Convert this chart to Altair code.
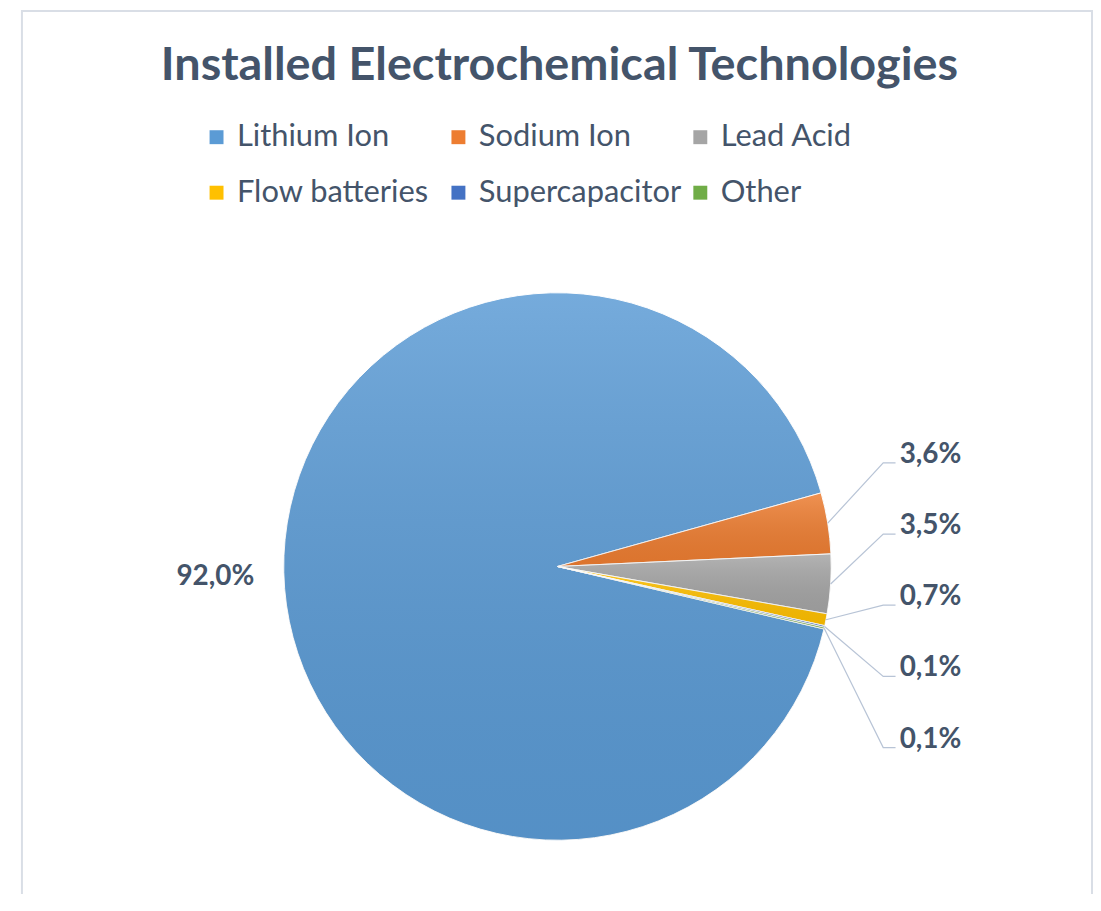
import math
import altair as alt
import pandas as pd

# ---------------- data ----------------
categories = ["Lithium Ion", "Sodium Ion", "Lead Acid", "Flow batteries", "Supercapacitor", "Other"]
shares = [92.0, 3.6, 3.5, 0.7, 0.1, 0.1]
colors = ["#5B9BD5", "#ED7D31", "#A5A5A5", "#FFC000", "#4472C4", "#70AD47"]
TITLE = "Installed Electrochemical Technologies"

# ---------------- layout / style ----------------
W, H = 1090, 888
CX, CY, R = 552, 559, 275          # pie centre (view px) and radius
START_DEG = 103.2                   # angle at which the first slice starts (clockwise from 12 o'clock)
TXT = "#44546A"
FONT = "Lato"

x_dom = [-CX / R, (W - CX) / R]
y_dom = [-(H - CY) / R, CY / R]
xs = alt.Scale(domain=x_dom, nice=False, zero=False)
ys = alt.Scale(domain=y_dom, nice=False, zero=False)


def fmt(v):
    return f"{v:.1f}%".replace(".", ",")


def spread(nat, gap):
    """simple label de-overlap: merge clusters and spread them evenly around their mean"""
    clusters = [[v] for v in nat]
    merged = True
    while merged:
        merged = False
        for i in range(len(clusters) - 1):
            a, b = clusters[i], clusters[i + 1]
            ca, cb = sum(a) / len(a), sum(b) / len(b)
            if (ca - gap * (len(a) - 1) / 2) - (cb + gap * (len(b) - 1) / 2) < gap:
                clusters[i] = a + b
                del clusters[i + 1]
                merged = True
                break
    out = []
    for c in clusters:
        m, n = sum(c) / len(c), len(c)
        out += [m + gap * ((n - 1) / 2 - k) for k in range(n)]
    return out


total = sum(shares)
a0 = math.radians(START_DEG)
mids, acc = [], 0.0
for v in shares:
    mids.append(a0 + 2 * math.pi * (acc + v / 2) / total)
    acc += v

slices = pd.DataFrame({"cat": categories, "share": shares, "idx": list(range(len(shares)))})

main_lbl = pd.DataFrame({
    "x": [1.25 * math.sin(mids[0])],
    "y": [1.25 * math.cos(mids[0])],
    "label": [fmt(shares[0])],
})

side = list(range(1, len(shares)))
nat = [1.3 * math.cos(mids[i]) for i in side]
lab_y = spread(nat, 0.26)
side_lbl = pd.DataFrame({
    "x": [1.25] * len(side),
    "y": lab_y,
    "label": [fmt(shares[i]) for i in side],
})
rows = []
for k, i in enumerate(side):
    rows.append({"cat": categories[i], "k": 0, "x": math.sin(mids[i]), "y": math.cos(mids[i])})
    rows.append({"cat": categories[i], "k": 1, "x": 1.19, "y": lab_y[k]})
    rows.append({"cat": categories[i], "k": 2, "x": 1.235, "y": lab_y[k]})
leaders = pd.DataFrame(rows)

# ---------------- charts ----------------
one = pd.DataFrame({"t": [TITLE]})
FRAME = "#D9DEE6"
frame_l = alt.Chart(one).mark_rule(color=FRAME, strokeWidth=2).encode(
    x=alt.value(14), y=alt.value(0), y2=alt.value(H))
frame_r = alt.Chart(one).mark_rule(color=FRAME, strokeWidth=2).encode(
    x=alt.value(1089), y=alt.value(0), y2=alt.value(H))
frame_t = alt.Chart(one).mark_rule(color=FRAME, strokeWidth=2).encode(
    x=alt.value(14), x2=alt.value(1089), y=alt.value(1))

base = alt.Chart(slices).encode(
    theta=alt.Theta("share:Q", stack=True,
                    scale=alt.Scale(range=[a0, a0 + 2 * math.pi])),
    order=alt.Order("idx:Q", sort="ascending"),
    x=alt.XDatum(datum=0, type="quantitative", scale=xs, axis=None),
    y=alt.YDatum(datum=0, type="quantitative", scale=ys, axis=None),
)

arcs = base.mark_arc(outerRadius=R, stroke="white", strokeWidth=1).encode(
    color=alt.Color(
        "cat:N",
        scale=alt.Scale(domain=categories, range=colors),
        legend=alt.Legend(
            title=None, orient="none", legendX=194, legendY=112,
            columns=3, direction="horizontal", gridAlign="all",
            symbolType="square", symbolSize=196,
            symbolStrokeWidth=0, labelFont=FONT, labelFontSize=31,
            labelColor=TXT, labelOffset=5, columnPadding=3, rowPadding=24,
            padding=0, labelLimit=500,
        ),
    )
)

shade = base.mark_arc(
    outerRadius=R,
    fill=alt.Gradient(
        gradient="linear", x1=0, y1=0, x2=0, y2=1,
        stops=[alt.GradientStop(color="rgba(255,255,255,0.16)", offset=0),
               alt.GradientStop(color="rgba(0,0,0,0.07)", offset=1)],
    ),
)

lines = alt.Chart(leaders).mark_line(color="#B8C4D6", strokeWidth=1.2).encode(
    x=alt.X("x:Q", scale=xs, axis=None),
    y=alt.Y("y:Q", scale=ys, axis=None),
    detail="cat:N",
    order="k:Q",
)

side_text = alt.Chart(side_lbl).mark_text(
    font=FONT, fontSize=28, fontWeight="bold", color=TXT,
    align="left", baseline="alphabetic",
).encode(
    x=alt.X("x:Q", scale=xs, axis=None),
    y=alt.Y("y:Q", scale=ys, axis=None),
    text="label:N",
)

main_text = alt.Chart(main_lbl).mark_text(
    font=FONT, fontSize=28, fontWeight="bold", color=TXT,
    align="center", baseline="middle", dy=3,
).encode(
    x=alt.X("x:Q", scale=xs, axis=None),
    y=alt.Y("y:Q", scale=ys, axis=None),
    text="label:N",
)

title = alt.Chart(one).mark_text(
    font=FONT, fontSize=47, fontWeight="bold", color=TXT,
    align="center", baseline="alphabetic",
).encode(text="t:N", x=alt.value(554), y=alt.value(70))

chart = alt.layer(
    frame_l, frame_r, frame_t, arcs, shade, lines, side_text, main_text, title
).properties(
    width=W, height=H, padding=0,
    autosize=alt.AutoSizeParams(type="none"),
).configure_view(stroke=None)

chart.save("out.html", embed_options={"renderer": "svg", "actions": False})
